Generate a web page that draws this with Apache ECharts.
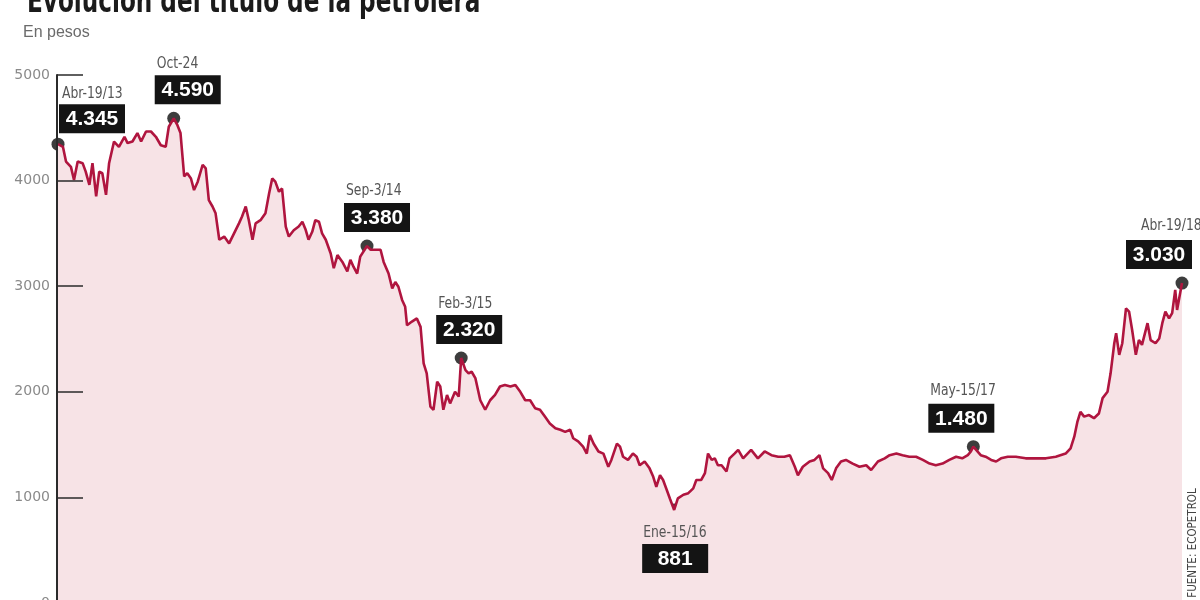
<!DOCTYPE html>
<html><head><meta charset="utf-8">
<script src="https://cdn.jsdelivr.net/npm/echarts@6/dist/echarts.min.js"></script>
<style>html,body{margin:0;padding:0;background:#fff}#c{width:1200px;height:600px}</style>
</head><body><div id="c"></div>
<script>
const dates = [
'2013-04-19','2013-04-27','2013-05-02','2013-05-10','2013-05-15','2013-05-21','2013-05-29','2013-06-03','2013-06-09','2013-06-14',
'2013-06-20','2013-06-25','2013-06-30','2013-07-06','2013-07-11','2013-07-19','2013-07-27','2013-08-05','2013-08-10','2013-08-18',
'2013-08-26','2013-09-01','2013-09-09','2013-09-17','2013-09-25','2013-10-03','2013-10-11','2013-10-16','2013-10-24','2013-10-30',
'2013-11-04','2013-11-10','2013-11-15','2013-11-21','2013-11-26','2013-12-02','2013-12-10','2013-12-15','2013-12-20','2013-12-26',
'2013-12-31','2014-01-06','2014-01-14','2014-01-22','2014-01-30','2014-02-07','2014-02-12','2014-02-18','2014-02-23','2014-03-01',
'2014-03-06','2014-03-14','2014-03-22','2014-03-28','2014-04-02','2014-04-07','2014-04-13','2014-04-18','2014-04-24','2014-04-29',
'2014-05-07','2014-05-15','2014-05-21','2014-05-26','2014-05-31','2014-06-06','2014-06-11','2014-06-17','2014-06-22','2014-06-28',
'2014-07-06','2014-07-11','2014-07-17','2014-07-25','2014-08-02','2014-08-07','2014-08-12','2014-08-18','2014-08-23','2014-09-03',
'2014-09-09','2014-09-17','2014-09-25','2014-09-30','2014-10-08','2014-10-14','2014-10-19','2014-10-24','2014-10-30','2014-11-04',
'2014-11-07','2014-11-15','2014-11-23','2014-11-29','2014-12-04','2014-12-09','2014-12-15','2014-12-20','2014-12-26','2014-12-31',
'2015-01-05','2015-01-11','2015-01-16','2015-01-24','2015-01-30','2015-02-03','2015-02-10','2015-02-15','2015-02-20','2015-02-26',
'2015-03-06','2015-03-14','2015-03-22','2015-03-30','2015-04-07','2015-04-15','2015-04-24','2015-05-02','2015-05-10','2015-05-18',
'2015-05-26','2015-06-03','2015-06-11','2015-06-19','2015-06-27','2015-07-06','2015-07-14','2015-07-22','2015-07-30','2015-08-04',
'2015-08-12','2015-08-20','2015-08-26','2015-08-31','2015-09-06','2015-09-14','2015-09-22','2015-09-30','2015-10-05','2015-10-14',
'2015-10-19','2015-10-24','2015-11-01','2015-11-09','2015-11-15','2015-11-20','2015-11-28','2015-12-06','2015-12-12','2015-12-17',
'2015-12-23','2015-12-28','2016-01-03','2016-01-08','2016-01-15','2016-01-21','2016-01-30','2016-02-07','2016-02-15','2016-02-20',
'2016-02-28','2016-03-05','2016-03-10','2016-03-16','2016-03-21','2016-03-26','2016-04-01','2016-04-09','2016-04-14','2016-04-22',
'2016-04-28','2016-05-06','2016-05-19','2016-05-30','2016-06-10','2016-06-21','2016-07-02','2016-07-12','2016-07-21','2016-07-29',
'2016-08-03','2016-08-11','2016-08-22','2016-08-30','2016-09-07','2016-09-13','2016-09-21','2016-09-27','2016-10-04','2016-10-12',
'2016-10-20','2016-10-31','2016-11-11','2016-11-22','2016-11-30','2016-12-11','2016-12-22','2016-12-30','2017-01-10','2017-01-20',
'2017-01-31','2017-02-11','2017-02-22','2017-03-05','2017-03-15','2017-03-26','2017-04-06','2017-04-17','2017-04-27','2017-05-06',
'2017-05-11','2017-05-15','2017-05-27','2017-06-04','2017-06-13','2017-06-21','2017-06-29','2017-07-10','2017-07-23','2017-08-08',
'2017-08-25','2017-09-10','2017-09-26','2017-10-12','2017-10-20','2017-10-26','2017-10-31','2017-11-05','2017-11-11','2017-11-19',
'2017-11-27','2017-12-05','2017-12-11','2017-12-19','2017-12-24','2017-12-30','2018-01-02','2018-01-07','2018-01-12','2018-01-18',
'2018-01-23','2018-01-28','2018-02-03','2018-02-08','2018-02-13','2018-02-22','2018-02-27','2018-03-07','2018-03-13','2018-03-18',
'2018-03-23','2018-03-29','2018-04-03','2018-04-08','2018-04-11','2018-04-19'
];
const prices = [
4345,4320,4180,4130,4005,4180,4165,4085,3960,4165,
3850,4085,4070,3865,4165,4370,4320,4415,4355,4370,
4450,4370,4465,4465,4415,4335,4320,4510,4590,4525,
4450,4040,4070,4020,3910,3990,4150,4115,3815,3755,
3690,3440,3470,3405,3500,3595,3660,3755,3625,3440,
3595,3625,3690,3880,4020,3990,3895,3925,3565,3470,
3530,3565,3610,3540,3440,3515,3625,3610,3500,3440,
3310,3170,3295,3230,3140,3250,3185,3120,3280,3380,
3345,3345,3345,3230,3120,2980,3040,2995,2870,2805,
2630,2665,2695,2615,2270,2175,1860,1830,2095,2050,
1830,1970,1890,2000,1955,2320,2205,2175,2190,2130,
1920,1830,1920,1970,2050,2065,2050,2065,2000,1920,
1920,1845,1830,1765,1700,1655,1640,1620,1640,1560,
1530,1480,1415,1590,1510,1435,1415,1290,1355,1510,
1480,1385,1355,1415,1385,1305,1340,1275,1195,1100,
1210,1165,1070,990,881,990,1025,1040,1085,1165,
1165,1230,1415,1355,1370,1305,1305,1245,1370,1415,
1450,1370,1450,1370,1435,1400,1385,1385,1400,1290,
1210,1290,1340,1355,1400,1275,1230,1165,1275,1340,
1355,1320,1290,1305,1260,1340,1370,1400,1415,1400,
1385,1385,1355,1320,1305,1320,1355,1385,1370,1400,
1435,1480,1400,1385,1355,1340,1370,1385,1385,1370,
1370,1370,1385,1415,1465,1575,1715,1810,1765,1780,
1750,1795,1940,2000,2175,2460,2555,2350,2460,2790,
2760,2585,2350,2490,2445,2650,2490,2460,2505,2650,
2760,2695,2745,2965,2775,3030
];
const annDates = ['2013-04-19','2013-10-24','2014-09-03','2015-02-03','2016-01-15','2017-05-15','2018-04-19'];
const annValues = [4345, 4590, 3380, 2320, 881, 1480, 3030];
const annDateLabels = ['Abr-19/13','Oct-24','Sep-3/14','Feb-3/15','Ene-15/16','May-15/17','Abr-19/18'];
const annValueLabels = ['4.345','4.590','3.380','2.320','881','1.480','3.030'];
const yTicks = [0, 1000, 2000, 3000, 4000, 5000];
const titleText = 'Evolución del título de la petrolera';
const subtitleText = 'En pesos';
const sourceText = 'FUENTE: ECOPETROL';

// layout offsets of annotation boxes / date labels relative to the point (pixels)
const annLayout = [
  {bx: 1, by: -40, dx: 4, dy: -50},
  {bx: -19, by: -43, dx: -17, dy: -54},
  {bx: -23, by: -43, dx: -21, dy: -55},
  {bx: -25, by: -43, dx: -23, dy: -54},
  {bx: -32, by: 34, dx: -31, dy: 23},
  {bx: -45, by: -43, dx: -43, dy: -56},
  {bx: -56, by: -43, dx: -41, dy: -57}
];

const LINE = '#b0153f', FILL = '#f7e3e6';
const COND = '"DejaVu Sans Condensed", "Liberation Sans", sans-serif';

const chart = echarts.init(document.getElementById('c'), null, {renderer: 'canvas'});
const lineData = dates.map((d, i) => [d, prices[i]]);
const annData = annDates.map((d, i) => [d, annValues[i]]);

chart.setOption({
  animation: false,
  backgroundColor: '#fff',
  grid: {left: 57, top: 75, width: 1126, height: 528, containLabel: false, outerBoundsMode: 'none'},
  xAxis: {type: 'time', min: dates[0], max: dates[dates.length - 1], show: false},
  yAxis: {
    type: 'value', min: yTicks[0], max: yTicks[yTicks.length - 1], interval: 1000, z: 10,
    axisLine: {show: true, lineStyle: {color: '#2b2b2b', width: 2}},
    axisTick: {show: true, inside: true, length: 26, lineStyle: {color: '#2b2b2b', width: 1.5}},
    axisLabel: {color: '#8a8a8a', fontSize: 14, fontFamily: '"DejaVu Sans", sans-serif', margin: 7, formatter: v => String(v)},
    splitLine: {show: false}
  },
  series: [
    {type: 'line', data: lineData, symbol: 'none', lineStyle: {width: 0}, areaStyle: {color: FILL, opacity: 1}, silent: true},
    {type: 'bar', data: annData.slice(1), barWidth: 2, itemStyle: {color: '#ffffff'}, silent: true},
    {type: 'line', data: lineData, symbol: 'none', lineStyle: {color: LINE, width: 2.6}, silent: true},
    {type: 'scatter', data: annData, symbol: 'circle', symbolSize: 13, itemStyle: {color: '#0d0d0d'}, clip: false, silent: true}
  ]
});

const g = [];
g.push({type: 'text', x: 27, y: 3, scaleX: 0.78, z: 100, style: {text: titleText, fill: '#1b1b1b', font: 'bold 33px ' + COND, align: 'left', verticalAlign: 'middle'}});
g.push({type: 'text', x: 23, y: 33, z: 100, style: {text: subtitleText, fill: '#6b6b6b', font: '16px "Liberation Sans", sans-serif', align: 'left', verticalAlign: 'middle'}});
g.push({type: 'text', x: 1193, y: 543, rotation: Math.PI / 2, z: 100, style: {text: sourceText, fill: '#444', font: '11.5px ' + COND, align: 'center', verticalAlign: 'middle'}});

annData.forEach((pt, i) => {
  const p = chart.convertToPixel({xAxisIndex: 0, yAxisIndex: 0}, pt);
  const L = annLayout[i];
  g.push({type: 'rect', z: 100, shape: {x: p[0] + L.bx, y: p[1] + L.by, width: 66, height: 29}, style: {fill: '#141414'}});
  g.push({type: 'text', z: 101, x: p[0] + L.bx + 33, y: p[1] + L.by + 15, style: {text: annValueLabels[i], fill: '#fff', font: 'bold 21px "Liberation Sans", sans-serif', align: 'center', verticalAlign: 'middle'}});
  g.push({type: 'text', z: 101, x: p[0] + L.dx, y: p[1] + L.dy, scaleX: 0.86, style: {text: annDateLabels[i], fill: '#555', font: '16px ' + COND, align: 'left', verticalAlign: 'middle'}});
});
chart.setOption({graphic: g});
</script>
</body></html>
